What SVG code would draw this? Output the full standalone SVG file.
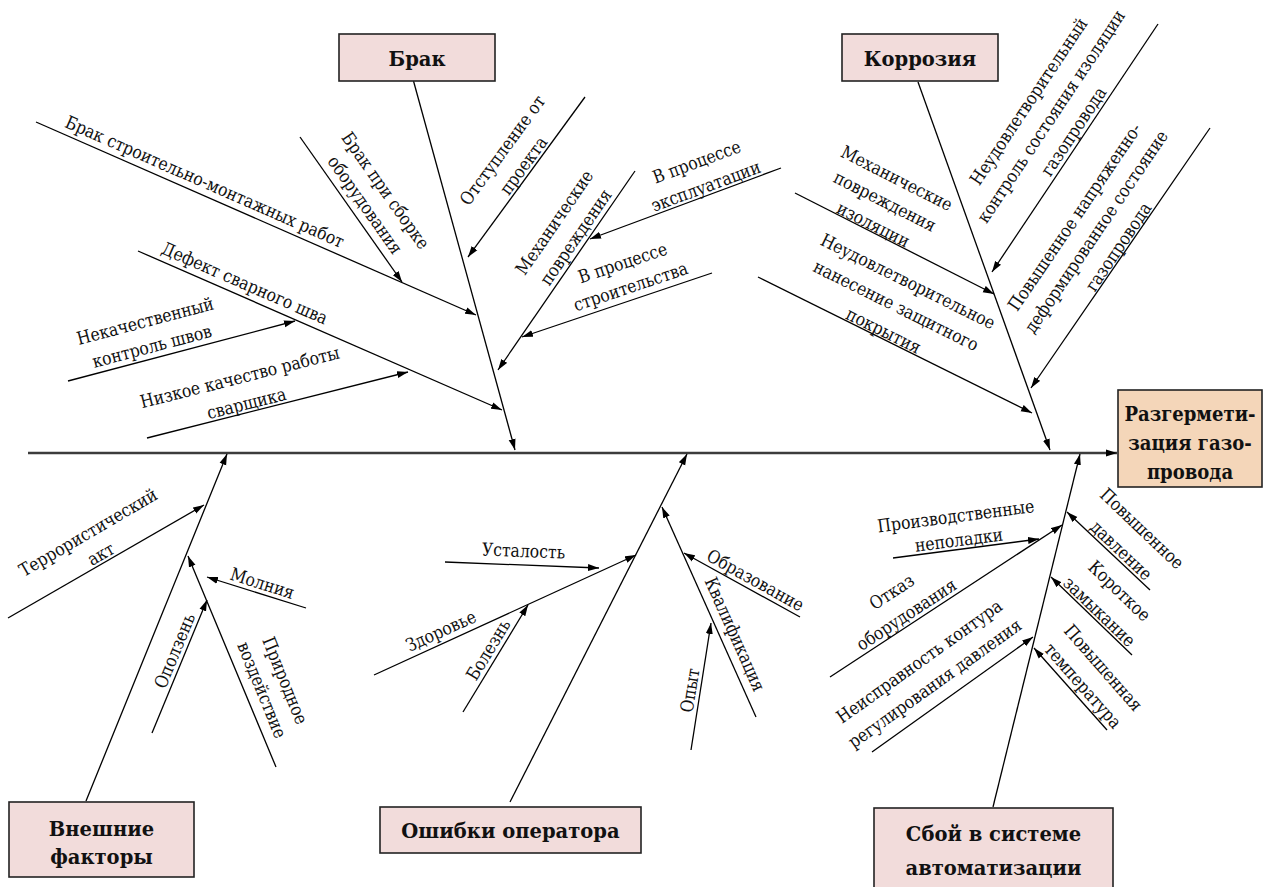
<svg xmlns="http://www.w3.org/2000/svg" width="1264" height="887" viewBox="0 0 1264 887">
<defs>
<marker id="ah" markerUnits="userSpaceOnUse" markerWidth="12" markerHeight="8" refX="11" refY="4" orient="auto">
<path d="M0,0.5 L11,4 L0,7.5 z" fill="#000"/>
</marker>
<style>
.c{stroke:#000;stroke-width:1.3;fill:none;marker-end:url(#ah)}
.sp{stroke:#3c3c3c;stroke-width:2.5;fill:none;marker-end:url(#ah)}
.t{font-family:"DejaVu Serif",serif;font-size:18px;fill:#111;text-anchor:middle}
.b{font-family:"DejaVu Serif",serif;font-size:21px;font-weight:bold;fill:#111;text-anchor:middle}
.bx{fill:#f2dcdb;stroke:#222;stroke-width:1.6}
.bx2{fill:#f4d6b9;stroke:#222;stroke-width:1.6}
</style>
</defs>
<rect width="1264" height="887" fill="#fff"/>

<g id="connectors">
<line class="sp" x1="28" y1="453" x2="1117" y2="453"/>
<line class="c" x1="413.5" y1="81" x2="515" y2="450"/>
<line class="c" x1="36" y1="122" x2="476" y2="315"/>
<line class="c" x1="300" y1="137" x2="402" y2="282"/>
<line class="c" x1="585" y1="97" x2="468" y2="257"/>
<line class="c" x1="635" y1="171" x2="498" y2="370"/>
<line class="c" x1="781" y1="168" x2="590" y2="239"/>
<line class="c" x1="712" y1="273" x2="522" y2="337"/>
<line class="c" x1="138" y1="251" x2="502" y2="410"/>
<line class="c" x1="68" y1="381" x2="295" y2="321"/>
<line class="c" x1="147" y1="438" x2="408" y2="372"/>
<line class="c" x1="918" y1="82" x2="1050" y2="450"/>
<line class="c" x1="1158" y1="24" x2="992" y2="272"/>
<line class="c" x1="795" y1="193" x2="994" y2="294"/>
<line class="c" x1="758" y1="277" x2="1032" y2="413"/>
<line class="c" x1="1210" y1="128" x2="1031" y2="388"/>
<line class="c" x1="86" y1="801" x2="227" y2="454"/>
<line class="c" x1="8" y1="618" x2="204" y2="505"/>
<line class="c" x1="276" y1="767" x2="188" y2="556"/>
<line class="c" x1="152" y1="733" x2="207" y2="600"/>
<line class="c" x1="306" y1="608" x2="207" y2="577"/>
<line class="c" x1="510" y1="802" x2="687" y2="454"/>
<line class="c" x1="374" y1="675" x2="636" y2="555"/>
<line class="c" x1="445" y1="562" x2="599" y2="568"/>
<line class="c" x1="463" y1="712" x2="528" y2="605"/>
<line class="c" x1="756" y1="717" x2="662" y2="507"/>
<line class="c" x1="800" y1="617" x2="684" y2="553"/>
<line class="c" x1="691" y1="750" x2="711" y2="623"/>
<line class="c" x1="993" y1="807" x2="1080" y2="454"/>
<line class="c" x1="830" y1="677" x2="1062" y2="525"/>
<line class="c" x1="893" y1="558" x2="1039" y2="539"/>
<line class="c" x1="872" y1="752" x2="1033" y2="637"/>
<line class="c" x1="1150" y1="590" x2="1067" y2="512"/>
<line class="c" x1="1132" y1="655" x2="1051" y2="577"/>
<line class="c" x1="1107" y1="730" x2="1034" y2="648"/>
</g>

<g id="head">
<rect class="bx2" x="1118" y="390" width="144" height="97"/>
<text class="b" transform="translate(1190,0) scale(0.86,1)"><tspan x="0" y="421">Разгермети-</tspan><tspan x="0" y="450">зация газо-</tspan><tspan x="0" y="479">провода</tspan></text>
</g>

<g id="cat-brak">
<rect class="bx" x="339" y="34" width="156" height="47"/>
<text class="b" transform="translate(417,66) scale(0.93,1)" x="0" y="0">Брак</text>
</g>
<g id="cat-korr">
<rect class="bx" x="842" y="34" width="156" height="47"/>
<text class="b" transform="translate(920,66) scale(0.93,1)" x="0" y="0">Коррозия</text>
</g>
<g id="cat-vnesh">
<rect class="bx" x="9" y="802" width="185" height="75"/>
<text class="b" transform="translate(101.5,0) scale(0.93,1)"><tspan x="0" y="836">Внешние</tspan><tspan x="0" y="864">факторы</tspan></text>
</g>
<g id="cat-oshib">
<rect class="bx" x="380" y="807" width="261" height="46"/>
<text class="b" transform="translate(510.5,838) scale(0.93,1)" x="0" y="0">Ошибки оператора</text>
</g>
<g id="cat-sboi">
<rect class="bx" x="874" y="808" width="239" height="82"/>
<text class="b" transform="translate(993.5,0) scale(0.93,1)"><tspan x="0" y="841">Сбой в системе</tspan><tspan x="0" y="875">автоматизации</tspan></text>
</g>

<g id="l-smr"><text class="t" transform="translate(199.5,193.8) rotate(23.7) scale(0.87,1)"><tspan x="0" y="-7">Брак строительно-монтажных работ</tspan></text></g>
<g id="l-sborka"><text class="t" transform="translate(353.5,213) rotate(54.9) scale(0.87,1)"><tspan x="0" y="-33">Брак при сборке</tspan><tspan x="0" y="-8">оборудования</tspan></text></g>
<g id="l-otstup"><text class="t" transform="translate(530.8,171) rotate(-53.8) scale(0.87,1)"><tspan x="0" y="-29">Отступление от</tspan><tspan x="0" y="-3">проекта</tspan></text></g>
<g id="l-meh1"><text class="t" transform="translate(585,243.5) rotate(-55.5) scale(0.87,1)"><tspan x="0" y="-31">Механические</tspan><tspan x="0" y="-5">повреждения</tspan></text></g>
<g id="l-ekspl"><text class="t" transform="translate(709,194.8) rotate(-20.4) scale(0.87,1)"><tspan x="0" y="-29">В процессе</tspan><tspan x="0" y="-3">эксплуатации</tspan></text></g>
<g id="l-stroi"><text class="t" transform="translate(634.8,299) rotate(-18.6) scale(0.87,1)"><tspan x="0" y="-32">В процессе</tspan><tspan x="0" y="-7">строительства</tspan></text></g>
<g id="l-defekt"><text class="t" transform="translate(239.5,295.3) rotate(23.6) scale(0.87,1)"><tspan x="0" y="-7">Дефект сварного шва</tspan></text></g>
<g id="l-kontrol"><text class="t" transform="translate(155,358) rotate(-14.8) scale(0.87,1)"><tspan x="0" y="-32">Некачественный</tspan><tspan x="0" y="-6">контроль швов</tspan></text></g>
<g id="l-svarshik"><text class="t" transform="translate(248.7,412.3) rotate(-14.2) scale(0.87,1)"><tspan x="0" y="-30">Низкое качество работы</tspan><tspan x="0" y="-3">сварщика</tspan></text></g>

<g id="l-kontrol-iz"><text class="t" transform="translate(1082,137) rotate(-56.3) scale(0.87,1)"><tspan x="0" y="-58">Неудовлетворительный</tspan><tspan x="0" y="-31">контроль состояния изоляции</tspan><tspan x="0" y="-4">газопровода</tspan></text></g>
<g id="l-meh-iz"><text class="t" transform="translate(870,231) rotate(26.9) scale(0.87,1)"><tspan x="0" y="-53">Механические</tspan><tspan x="0" y="-27">повреждения</tspan><tspan x="0" y="-1">изоляции</tspan></text></g>
<g id="l-pokr"><text class="t" transform="translate(880,338) rotate(26.4) scale(0.87,1)"><tspan x="0" y="-57">Неудовлетворительное</tspan><tspan x="0" y="-30">нанесение защитного</tspan><tspan x="0" y="-2">покрытия</tspan></text></g>
<g id="l-nds"><text class="t" transform="translate(1126,252) rotate(-55.8) scale(0.87,1)"><tspan x="0" y="-56">Повышенное напряженно-</tspan><tspan x="0" y="-30">деформированное состояние</tspan><tspan x="0" y="-3">газопровода</tspan></text></g>

<g id="l-terr"><text class="t" transform="translate(105,561) rotate(-30.4) scale(0.87,1)"><tspan x="0" y="-27">Террористический</tspan><tspan x="0" y="-2">акт</tspan></text></g>
<g id="l-prirod"><text class="t" transform="translate(247,696) rotate(67.8) scale(0.87,1)"><tspan x="0" y="-35">Природное</tspan><tspan x="0" y="-10">воздействие</tspan></text></g>
<g id="l-opolz"><text class="t" transform="translate(185,655) rotate(-67.5) scale(0.87,1)"><tspan x="0" y="-5">Оползень</tspan></text></g>
<g id="l-molnia"><text class="t" transform="translate(259,594) rotate(17.4) scale(0.87,1)"><tspan x="0" y="-5">Молния</tspan></text></g>

<g id="l-zdorov"><text class="t" transform="translate(446,642) rotate(-24.5) scale(0.87,1)"><tspan x="0" y="-6">Здоровье</tspan></text></g>
<g id="l-ustal"><text class="t" transform="translate(523,565) rotate(2.2) scale(0.87,1)"><tspan x="0" y="-8">Усталость</tspan></text></g>
<g id="l-bolezn"><text class="t" transform="translate(497,655) rotate(-58.7) scale(0.87,1)"><tspan x="0" y="-4">Болезнь</tspan></text></g>
<g id="l-kval"><text class="t" transform="translate(722,640) rotate(65.9) scale(0.87,1)"><tspan x="0" y="-8">Квалификация</tspan></text></g>
<g id="l-obraz"><text class="t" transform="translate(750,590) rotate(28.9) scale(0.87,1)"><tspan x="0" y="-5">Образование</tspan></text></g>
<g id="l-opyt"><text class="t" transform="translate(700,692) rotate(-81) scale(0.87,1)"><tspan x="0" y="-4">Опыт</tspan></text></g>

<g id="l-otkaz"><text class="t" transform="translate(912,623) rotate(-33.2) scale(0.87,1)"><tspan x="0" y="-31">Отказ</tspan><tspan x="0" y="-4">оборудования</tspan></text></g>
<g id="l-neplad"><text class="t" transform="translate(960,549) rotate(-7.4) scale(0.87,1)"><tspan x="0" y="-27">Производственные</tspan><tspan x="0" y="-3">неполадки</tspan></text></g>
<g id="l-kontur"><text class="t" transform="translate(946,699) rotate(-35.5) scale(0.87,1)"><tspan x="0" y="-40">Неисправность контура</tspan><tspan x="0" y="-13">регулирования давления</tspan></text></g>
<g id="l-davl"><text class="t" transform="translate(1115,557) rotate(43.6) scale(0.87,1)"><tspan x="0" y="-33">Повышенное</tspan><tspan x="0" y="-3">давление</tspan></text></g>
<g id="l-kz"><text class="t" transform="translate(1093.7,617.6) rotate(43.9) scale(0.87,1)"><tspan x="0" y="-31">Короткое</tspan><tspan x="0" y="-2">замыкание</tspan></text></g>
<g id="l-temp"><text class="t" transform="translate(1074.6,693) rotate(48.7) scale(0.87,1)"><tspan x="0" y="-32">Повышенная</tspan><tspan x="0" y="-5">температура</tspan></text></g>
</svg>
